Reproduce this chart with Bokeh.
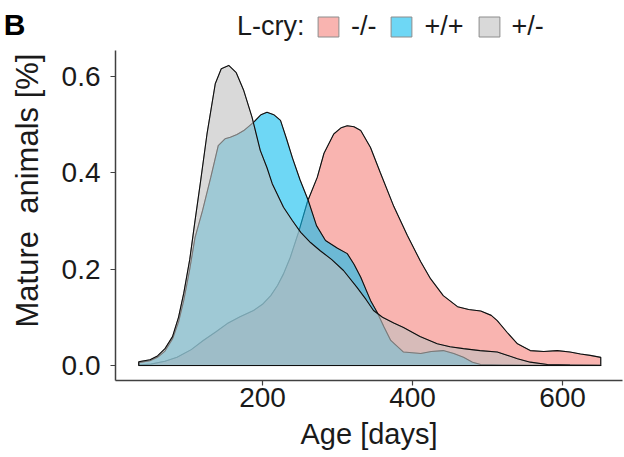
from bokeh.plotting import figure
from bokeh.models import (Range1d, FixedTicker, Legend, LegendItem, Label, LinearAxis,
                          CustomJSTickFormatter)
from bokeh.embed import file_html
from bokeh.resources import INLINE

# ---- data (density of mature animals vs age) ----
ages_ko = [35, 51, 70, 86, 105, 121, 138, 153, 170, 188, 200, 211, 220, 228, 237, 248, 260,
           273, 282, 295, 305, 313, 322, 331, 344, 357, 375, 393, 411, 424, 441, 460, 475,
           491, 505, 513, 526, 540, 557, 575, 593, 610, 624, 637, 651]
dens_ko = [0.001, 0.003, 0.009, 0.017, 0.033, 0.052, 0.070, 0.087, 0.101, 0.114, 0.127, 0.145,
           0.166, 0.190, 0.224, 0.276, 0.340, 0.390, 0.440, 0.480, 0.493, 0.497, 0.495, 0.487,
           0.452, 0.400, 0.330, 0.270, 0.215, 0.180, 0.145, 0.122, 0.116, 0.113, 0.104, 0.093,
           0.069, 0.045, 0.031, 0.029, 0.031, 0.028, 0.024, 0.021, 0.017]

ages_wt = [35, 50, 60, 70, 80, 88, 95, 103, 110, 120, 131, 141, 150, 157, 166, 175, 188, 198,
           206, 215, 224, 232, 240, 250, 261, 272, 284, 300, 313, 322, 331, 344, 353, 362, 371,
           388, 411, 425, 441, 455, 468, 480, 491, 520, 560, 610, 651]
dens_wt = [0.006, 0.010, 0.017, 0.030, 0.055, 0.090, 0.135, 0.200, 0.265, 0.321, 0.390, 0.456,
           0.470, 0.473, 0.479, 0.487, 0.504, 0.520, 0.525, 0.520, 0.508, 0.470, 0.430, 0.385,
           0.342, 0.290, 0.259, 0.243, 0.232, 0.210, 0.183, 0.135, 0.110, 0.080, 0.052, 0.028,
           0.025, 0.029, 0.031, 0.025, 0.017, 0.007, 0.002, 0.001, 0.0005, 0.0003, 0.0002]

ages_het = [35, 50, 60, 70, 80, 88, 95, 103, 110, 117, 126, 137, 145, 155, 165, 175, 186, 197,
            206, 213, 228, 240, 251, 264, 277, 292, 308, 326, 338, 348, 360, 375, 388, 410, 433,
            450, 468, 490, 513, 527, 540, 557, 580, 610, 651]
dens_het = [0.008, 0.012, 0.020, 0.035, 0.060, 0.100, 0.150, 0.220, 0.300, 0.377, 0.480, 0.584,
            0.615, 0.622, 0.607, 0.570, 0.515, 0.446, 0.410, 0.377, 0.328, 0.300, 0.276, 0.255,
            0.238, 0.220, 0.197, 0.162, 0.137, 0.114, 0.100, 0.088, 0.079, 0.060, 0.045, 0.039,
            0.035, 0.031, 0.028, 0.021, 0.014, 0.007, 0.002, 0.001, 0.0005]

legend_title = "L-cry:"
panel_letter = "B"
group_labels = ["-/-", "+/+", "+/-"]
group_colors = ["#F5827B", "#0DBCEE", "#BFBFBF"]
x_ticks = [200, 400, 600]
y_ticks = [0.0, 0.2, 0.4, 0.6]

FONT = "Liberation Sans"
Y_LO, Y_HI = -0.031, 0.653          # extent of the drawn y axis
Y_TOP = Y_HI + 50 / 482.5           # room above the axis for the legend

p = figure(width=624, height=457, output_backend="svg", toolbar_location=None,
           x_range=Range1d(4, 680), y_range=Range1d(Y_LO, Y_TOP),
           min_border_left=115, min_border_right=2, min_border_top=0, min_border_bottom=77)
p.outline_line_color = None
p.grid.visible = False
p.background_fill_color = "white"

series = [(ages_ko, dens_ko), (ages_wt, dens_wt), (ages_het, dens_het)]
items = []
for (xs, ys), col, lab in zip(series, group_colors, group_labels):
    px = [xs[0]] + list(xs) + [xs[-1], xs[0]]
    py = [0.0] + list(ys) + [0.0, 0.0]
    r = p.patch(px, py, fill_color=col, fill_alpha=0.6, line_color="#8c8c8c", line_width=1)
    p.line(px, py, line_color="black", line_width=1.1, line_alpha=0.9)
    items.append(LegendItem(label=lab, renderers=[r]))

legend = Legend(items=items, orientation="horizontal", glyph_width=26, glyph_height=25,
                label_standoff=10, spacing=12, padding=0, margin=0,
                border_line_color=None, background_fill_alpha=0,
                label_text_font=FONT, label_text_font_size="27px",
                label_text_color="#1a1a1a", location=(200, 338))
p.add_layout(legend, "center")
p.add_layout(Label(x=256, y=Y_HI + 24 / 482.5, text=legend_title, text_font=FONT,
                   text_font_size="27px", text_color="#1a1a1a", text_align="right",
                   text_baseline="middle"))

xaxis = p.xaxis[0]
yaxis = p.yaxis[0]
yaxis.bounds = (Y_LO, Y_HI)

for ax in (xaxis, yaxis):
    ax.axis_line_color = "#404040"
    ax.axis_line_width = 1.5
    ax.major_tick_line_color = "#404040"
    ax.major_tick_line_width = 1.2
    ax.major_tick_out = 5
    ax.major_tick_in = 0
    ax.minor_tick_line_color = None
    ax.major_label_text_font = FONT
    ax.major_label_text_color = "#1a1a1a"
    ax.major_label_text_font_size = "28px"
    ax.axis_label_text_font = FONT
    ax.axis_label_text_font_style = "normal"
    ax.axis_label_text_color = "#1a1a1a"

xaxis.ticker = FixedTicker(ticks=x_ticks)
yaxis.ticker = FixedTicker(ticks=y_ticks)
yaxis.formatter = CustomJSTickFormatter(code="return tick.toFixed(1);")
xaxis.axis_label = "Age [days]"
yaxis.axis_label = "Mature\u00a0 animals [%]"
xaxis.axis_label_text_font_size = "29px"
yaxis.axis_label_text_font_size = "31px"
xaxis.major_label_standoff = 2
yaxis.major_label_standoff = 10
xaxis.axis_label_standoff = 8
yaxis.axis_label_standoff = 14

# panel letter, set at the far top-left as the label of a bare outer axis
letter_axis = LinearAxis(ticker=FixedTicker(ticks=[Y_HI + 41 / 482.5]),
                         formatter=CustomJSTickFormatter(code="return '%s';" % panel_letter),
                         axis_line_color=None, major_tick_line_color=None,
                         minor_tick_line_color=None, major_tick_out=0, major_tick_in=0,
                         major_label_standoff=-19, major_label_text_font=FONT,
                         major_label_text_font_size="30px",
                         major_label_text_font_style="bold",
                         major_label_text_color="black")
p.add_layout(letter_axis, "left")

open("out.html", "w").write(file_html(p, INLINE))
